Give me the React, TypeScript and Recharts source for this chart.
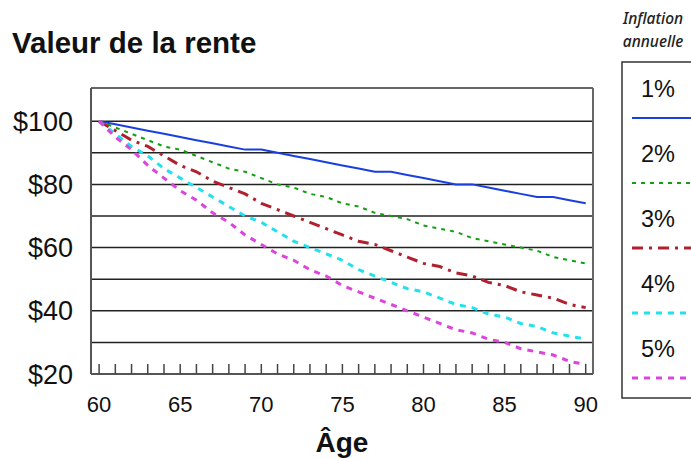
import { LineChart, Line, XAxis, YAxis, ReferenceLine, Label } from 'recharts'

const ages = [60,61,62,63,64,65,66,67,68,69,70,71,72,73,74,75,76,77,78,79,80,81,82,83,84,85,86,87,88,89,90]
const infl1 = [100,99,98,97,96,95,94,93,92,91,91,90,89,88,87,86,85,84,84,83,82,81,80,80,79,78,77,76,76,75,74]
const infl2 = [100,98,96,94,92,91,89,87,85,84,82,80,79,77,76,74,73,71,70,69,67,66,65,63,62,61,60,59,57,56,55]
const infl3 = [100,97,94,92,89,86,84,81,79,77,74,72,70,68,66,64,62,61,59,57,55,54,52,51,49,48,46,45,44,42,41]
const infl4 = [100,96,92,89,85,82,79,76,73,70,68,65,62,60,58,56,53,51,49,47,46,44,42,41,39,38,36,35,33,32,31]
const infl5 = [100,95,91,86,82,78,75,71,68,64,61,58,56,53,51,48,46,44,42,40,38,36,34,33,31,30,28,27,26,24,23]

const yLabelTicks = [20, 40, 60, 80, 100]
const yMinorTicks = [25, 35, 45, 55, 65, 75, 85, 95, 105]
const gridLines = [30, 40, 50, 60, 70, 80, 90, 100]

const series = [
  { key: 'r1', name: '1%', color: '#1a3fe0', dash: undefined, width: 2 },
  { key: 'r2', name: '2%', color: '#10a010', dash: '4 5', width: 2 },
  { key: 'r3', name: '3%', color: '#b0202e', dash: '11 6 3 6', width: 3 },
  { key: 'r4', name: '4%', color: '#22e0ee', dash: '6 6', width: 3 },
  { key: 'r5', name: '5%', color: '#dd44dd', dash: '6 6', width: 3 },
]

const data = ages.map((age, i) => ({
  age,
  r1: infl1[i],
  r2: infl2[i],
  r3: infl3[i],
  r4: infl4[i],
  r5: infl5[i],
}))

const font = '"Liberation Sans", Arial, sans-serif'

export default function App() {
  return (
    <div style={{ position: 'absolute', left: 0, top: 0, width: 691, height: 459, overflow: 'hidden', background: '#fff', fontFamily: font }}>
      <div style={{ position: 'absolute', left: 12, top: 28, fontSize: 29.5, fontWeight: 'bold', lineHeight: 1, color: '#111', whiteSpace: 'nowrap' }}>
        Valeur de la rente
      </div>
      <div style={{ position: 'absolute', left: 604, top: 7, width: 98, textAlign: 'center', fontFamily: '"Noto Sans", sans-serif', fontStyle: 'italic', fontWeight: 500, fontSize: 15.5, lineHeight: '23px', color: '#222' }}>
        Inflation<br />annuelle
      </div>
      <LineChart width={691} height={459} data={data} margin={{ top: 88, right: 98, bottom: 0, left: 0 }} style={{ position: 'absolute', left: 0, top: 0 }}>
        <XAxis dataKey="age" type="number" domain={[59.5, 90.45]} ticks={ages} interval={0}
          tickFormatter={(v: number) => (v % 5 === 0 ? String(v) : '')}
          tickSize={-10} tickMargin={32} height={85}
          axisLine={{ stroke: '#555', strokeWidth: 2 }} tickLine={{ stroke: '#444', strokeWidth: 1.5 }}
          tick={{ fontSize: 22, fill: '#111', fontFamily: font }}>
          <Label value="Âge" position="insideBottom" offset={7} style={{ fontSize: 28, fontWeight: 'bold', fill: '#111', fontFamily: font }} />
        </XAxis>
        <YAxis yAxisId="lab" type="number" domain={[20, 110.5]} ticks={yLabelTicks} interval={0}
          tickFormatter={(v: number) => '$' + v} width={91} tickSize={0} tickMargin={18}
          axisLine={{ stroke: '#555', strokeWidth: 2 }} tickLine={false}
          tick={{ fontSize: 27, fill: '#111', fontFamily: font }} />
        <YAxis yAxisId="minor" type="number" domain={[20, 110.5]} ticks={yMinorTicks} interval={0}
          width={0} tickSize={-8} tick={false} axisLine={false} tickLine={{ stroke: '#444', strokeWidth: 1.5 }} />
        {gridLines.map((g) => (
          <ReferenceLine key={g} yAxisId="lab" y={g} stroke="#222" strokeWidth={1.5} />
        ))}
        <ReferenceLine yAxisId="lab" y={110.5} stroke="#666" strokeWidth={2} />
        <ReferenceLine yAxisId="lab" x={90.45} stroke="#666" strokeWidth={2} />
        {series.map((s) => (
          <Line key={s.key} yAxisId="lab" dataKey={s.key} name={s.name} type="linear" stroke={s.color}
            strokeWidth={s.width} strokeDasharray={s.dash} dot={false} isAnimationActive={false} />
        ))}
      </LineChart>
      <svg width={100} height={340} style={{ position: 'absolute', left: 621, top: 61 }}>
        <rect x={1} y={1} width={130} height={336} fill="none" stroke="#333" strokeWidth={1.5} />
        {series.map((s, i) => (
          <g key={s.key}>
            <text x={20} y={36 + 65 * i} fontSize={23.5} fill="#111" fontFamily={font}>{s.name}</text>
            <line x1={11} x2={100} y1={57 + 65 * i} y2={57 + 65 * i} stroke={s.color} strokeWidth={s.width} strokeDasharray={s.dash} />
          </g>
        ))}
      </svg>
    </div>
  )
}
